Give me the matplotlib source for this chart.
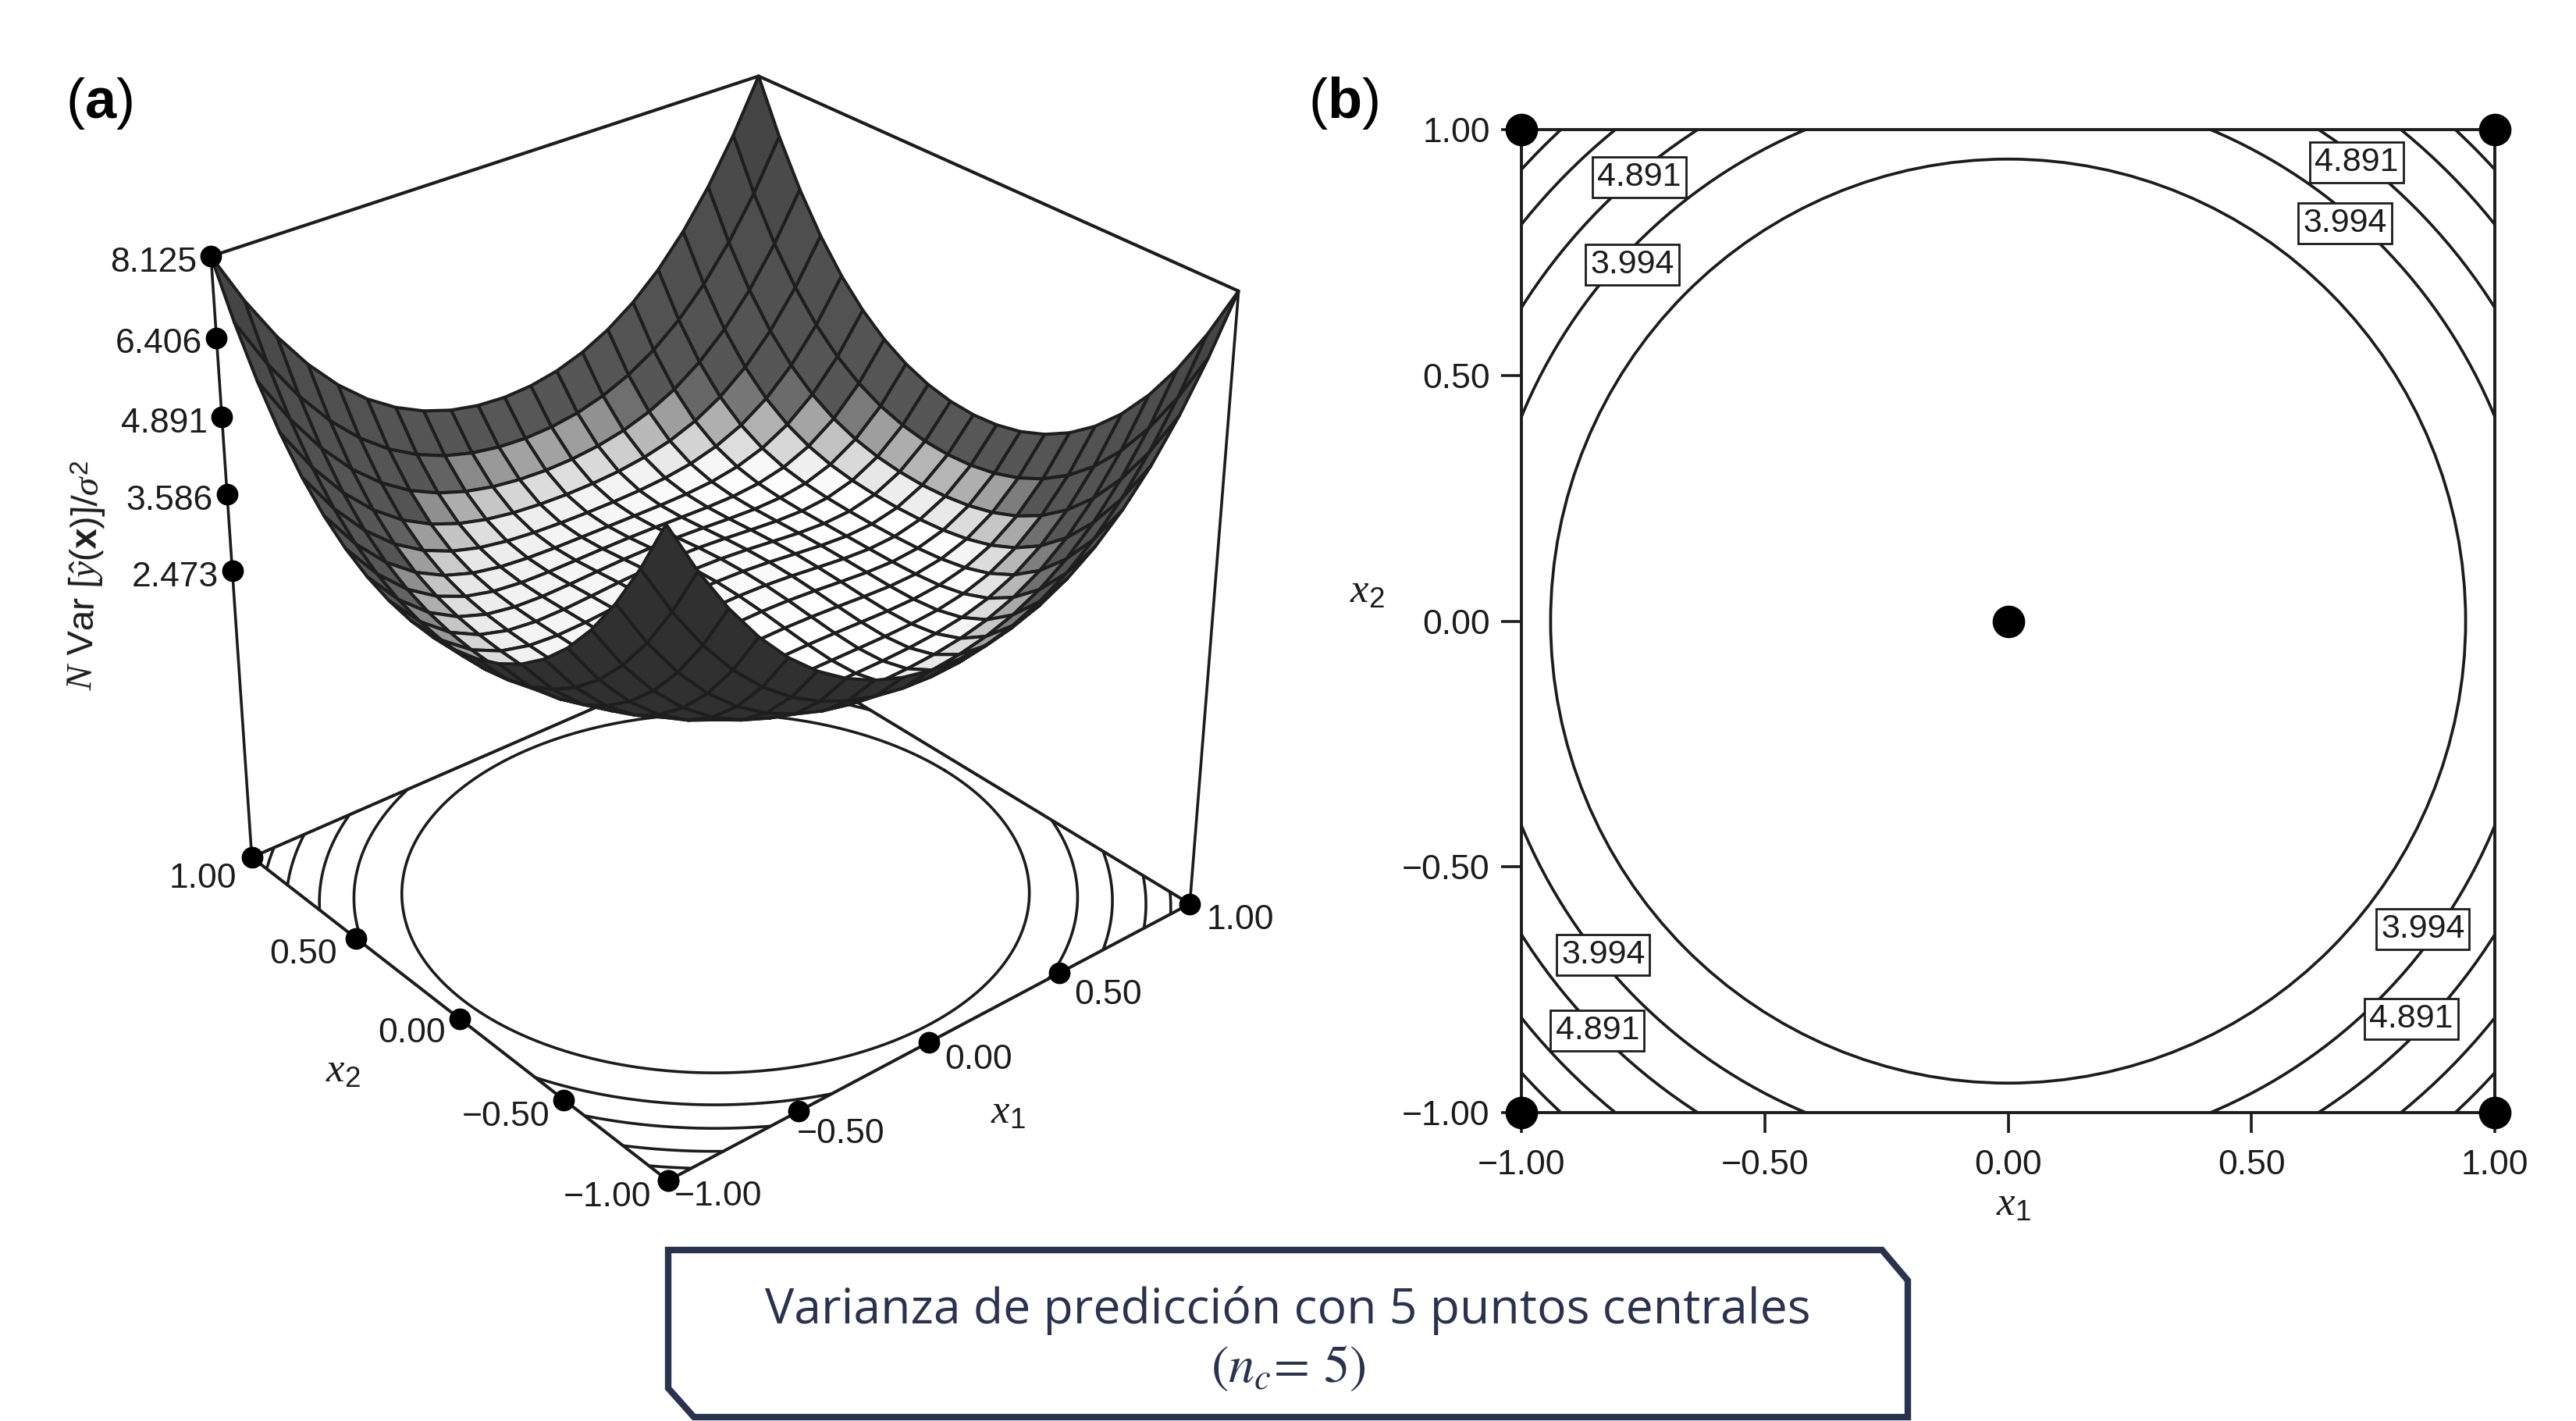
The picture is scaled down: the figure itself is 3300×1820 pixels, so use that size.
import numpy as np
import matplotlib
matplotlib.use("Agg")
import matplotlib.pyplot as plt
from matplotlib.collections import PolyCollection
from matplotlib.patches import Circle, Polygon

plt.rcParams['font.family'] = ['Liberation Sans', 'DejaVu Sans']
plt.rcParams['mathtext.fontset'] = 'custom'
plt.rcParams['mathtext.rm'] = 'Liberation Sans'
plt.rcParams['mathtext.it'] = 'Liberation Serif:italic'
plt.rcParams['mathtext.bf'] = 'Liberation Sans:bold'

# ---- data ----
# N Var values for the quadrant x1 = 0.0..1.0 (rows), x2 = 0.0..1.0 (columns)
NVAR_Q0 = [2.600, 2.590, 2.564, 2.527, 2.492, 2.473, 2.491, 2.571, 2.741, 3.036, 3.494]
NVAR_Q1 = [2.590, 2.581, 2.556, 2.521, 2.488, 2.473, 2.495, 2.580, 2.756, 3.057, 3.522]
NVAR_Q2 = [2.564, 2.556, 2.534, 2.505, 2.480, 2.474, 2.509, 2.608, 2.801, 3.121, 3.607]
NVAR_Q3 = [2.527, 2.521, 2.505, 2.485, 2.473, 2.485, 2.540, 2.663, 2.884, 3.236, 3.758]
NVAR_Q4 = [2.492, 2.488, 2.480, 2.473, 2.479, 2.514, 2.598, 2.756, 3.016, 3.413, 3.984]
NVAR_Q5 = [2.473, 2.473, 2.474, 2.485, 2.514, 2.580, 2.701, 2.902, 3.212, 3.666, 4.301]
NVAR_Q6 = [2.491, 2.495, 2.509, 2.540, 2.598, 2.701, 2.867, 3.121, 3.494, 4.017, 4.730]
NVAR_Q7 = [2.571, 2.580, 2.608, 2.663, 2.756, 2.902, 3.121, 3.439, 3.884, 4.491, 5.296]
NVAR_Q8 = [2.741, 2.756, 2.801, 2.884, 3.016, 3.212, 3.494, 3.884, 4.414, 5.115, 6.027]
NVAR_Q9 = [3.036, 3.057, 3.121, 3.236, 3.413, 3.666, 4.017, 4.491, 5.115, 5.925, 6.957]
NVAR_Q10 = [3.494, 3.522, 3.607, 3.758, 3.984, 4.301, 4.730, 5.296, 6.027, 6.957, 8.125]
GRID_COORDS = np.arange(-10, 11) / 10

Z_TICKS = [8.125, 6.406, 4.891, 3.586, 2.473]
Z_TICK_LABELS = ['8.125', '6.406', '4.891', '3.586', '2.473']
AXIS_TICKS = [-1.0, -0.5, 0.0, 0.5, 1.0]
AXIS_LABELS = ['\u22121.00', '\u22120.50', '0.00', '0.50', '1.00']

# radii of the constant-variance rings (levels about 3.2, 3.994, 4.891, 5.9, 7.0)
RING_RADII = [0.94, 1.083, 1.186, 1.285, 1.358]

LABEL_TEXT = ['4.891', '3.994', '4.891', '3.994', '3.994', '4.891', '3.994', '4.891']
LABEL_X = [-0.758, -0.772, 0.716, 0.692, -0.832, -0.844, 0.852, 0.828]
LABEL_Y = [0.903, 0.725, 0.933, 0.809, -0.679, -0.833, -0.627, -0.809]
DESIGN_X = [-1, 1, -1, 1, 0]
DESIGN_Y = [1, 1, -1, -1, 0]

# grey level of the inner side of the bowl as a function of N Var
SHADE_Z = [2.5, 2.6, 2.7, 2.8, 2.9, 3.05, 3.15, 3.25, 8.2]
SHADE_G = [1.0, 0.97, 0.88, 0.78, 0.69, 0.58, 0.45, 0.34, 0.25]
SIDE_LIGHT = 0.13
OUTER_GREY = 0.19

H_BASE = 0.30
H_TOP = np.sqrt(8.125)

# camera calibration: box corners (x1, x2, h) and where they sit on the page in pixels
BOX_WORLD = [(-1, -1, H_BASE), (1, -1, H_BASE), (-1, 1, H_BASE), (1, 1, H_BASE),
             (-1, -1, H_TOP), (1, -1, H_TOP), (-1, 1, H_TOP), (1, 1, H_TOP)]
BOX_PAGE = [(857, 1513), (1523, 1157), (321, 1096), (966, 820),
            (853, 672), (1587, 372), (271, 329), (971, 97)]

NAVY = '#29334f'
INK = '#1c1c1c'


def fit_camera(world, page):
    rows = []
    for (X, Y, Z), (u, v) in zip(world, page):
        u, v = u / 1000, v / 1000
        rows.append([X, Y, Z, 1, 0, 0, 0, 0, -u * X, -u * Y, -u * Z, -u])
        rows.append([0, 0, 0, 0, X, Y, Z, 1, -v * X, -v * Y, -v * Z, -v])
    P = np.linalg.svd(np.array(rows, float))[2][-1].reshape(3, 4)
    if P[2] @ np.array([0, 0, 1, 1]) < 0:
        P = -P
    return P


CAM = fit_camera(BOX_WORLD, BOX_PAGE)


def project(x1, x2, h):
    x1, x2, h = np.broadcast_arrays(np.asarray(x1, float), np.asarray(x2, float), np.asarray(h, float))
    w = CAM[2, 0] * x1 + CAM[2, 1] * x2 + CAM[2, 2] * h + CAM[2, 3]
    u = (CAM[0, 0] * x1 + CAM[0, 1] * x2 + CAM[0, 2] * h + CAM[0, 3]) / w * 1000
    v = (CAM[1, 0] * x1 + CAM[1, 1] * x2 + CAM[1, 2] * h + CAM[1, 3]) / w * 1000
    return u, v, w


def on_edge(tick, far_x1, far_x2):
    """Ticks are evenly spaced on the page along a front edge of the base."""
    u0, v0, _ = project(-1, -1, H_BASE)
    u1, v1, _ = project(far_x1, far_x2, H_BASE)
    f = (tick + 1) / 2
    return u0 + f * (u1 - u0), v0 + f * (v1 - v0)


fig = plt.figure(figsize=(33, 18.2), dpi=100, facecolor='white')
page = fig.add_axes([0, 0, 1, 1])
page.set_xlim(0, 3300)
page.set_ylim(1820, 0)
page.axis('off')


def line3(a, b, lw, z=1):
    u, v, _ = project([a[0], b[0]], [a[1], b[1]], [a[2], b[2]])
    page.plot(u, v, color=INK, lw=lw, zorder=z, solid_capstyle='round')


# ---- panel (a): base ----
corners = [(-1, -1), (1, -1), (1, 1), (-1, 1), (-1, -1)]
for p, q in zip(corners[:-1], corners[1:]):
    line3((*p, H_BASE), (*q, H_BASE), 2.9)
theta = np.linspace(0, 2 * np.pi, 1441)
for radius in RING_RADII:
    cx, cy = radius * np.cos(theta), radius * np.sin(theta)
    outside = (np.abs(cx) > 1) | (np.abs(cy) > 1)
    cx[outside] = np.nan
    cy[outside] = np.nan
    u, v, _ = project(cx, cy, H_BASE)
    page.plot(u, v, color=INK, lw=2.6, zorder=1.5)

line3((-1, 1, H_BASE), (-1, 1, H_TOP), 2.6)
line3((1, -1, H_BASE), (1, -1, H_TOP), 2.6)
line3((-1, 1, H_TOP), (1, 1, H_TOP), 3.0)
line3((1, 1, H_TOP), (1, -1, H_TOP), 3.0)

# ---- panel (a): surface ----
quadrant = np.array([NVAR_Q0, NVAR_Q1, NVAR_Q2, NVAR_Q3, NVAR_Q4, NVAR_Q5, NVAR_Q6,
                     NVAR_Q7, NVAR_Q8, NVAR_Q9, NVAR_Q10])
index = np.abs(np.arange(-10, 11))
nvar = quadrant[np.ix_(index, index)]
X1, X2 = np.meshgrid(GRID_COORDS, GRID_COORDS, indexing='ij')
U, V, W = project(X1, X2, np.sqrt(nvar))


def cell(a, i, j):
    return [a[i, j], a[i + 1, j], a[i + 1, j + 1], a[i, j + 1]]


def signed_area(i, j):
    us, vs = cell(U, i, j), cell(V, i, j)
    return 0.5 * sum(us[k] * vs[(k + 1) % 4] - us[(k + 1) % 4] * vs[k] for k in range(4))


inner_sign = np.sign(signed_area(10, 10))
faces = []
for i in range(20):
    for j in range(20):
        mean_z = np.mean(cell(nvar, i, j))
        inner = np.sign(signed_area(i, j)) == inner_sign
        if inner:
            side = (np.mean(cell(X1, i, j)) - np.mean(cell(X2, i, j))) / 2
            grey = np.interp(mean_z, SHADE_Z, SHADE_G)
            if mean_z < 3.2:
                grey = np.clip(grey + SIDE_LIGHT * min(side, 0.0) + 0.04 * max(side, 0.0), 0, 1)
        else:
            grey = OUTER_GREY
        faces.append((np.mean(cell(W, i, j)),
                      np.column_stack([cell(U, i, j), cell(V, i, j)]), str(round(float(grey), 3))))
faces.sort(key=lambda f: -f[0])
page.add_collection(PolyCollection([f[1] for f in faces], facecolors=[f[2] for f in faces],
                                   edgecolors='#1e1e1e', linewidths=2.9, zorder=2,
                                   joinstyle='round'))

# ---- panel (a): axes ----
FONT = 32
for value, label in zip(Z_TICKS, Z_TICK_LABELS):
    u, v, _ = project(-1, 1, np.sqrt(value))
    page.plot(u, v, 'o', color='black', ms=19, zorder=3)
    page.text(u - 18, v + 8, label, ha='right', va='center', fontsize=FONT, color=INK)

X2_OFFSET = [(-22, 21), (-18, 22), (-18, 18), (-24, 21), (-19, 28)]
X1_OFFSET = [(8, 20), (-2, 29), (20, 23), (19, 28), (21, 21)]
for tick, label, off2, off1 in zip(AXIS_TICKS, AXIS_LABELS, X2_OFFSET, X1_OFFSET):
    u, v = on_edge(tick, -1, 1)
    page.plot(u, v, 'o', color='black', ms=19, zorder=3)
    page.text(u + off2[0], v + off2[1], label, ha='right', va='center', fontsize=FONT, color=INK)
    u, v = on_edge(tick, 1, -1)
    page.plot(u, v, 'o', color='black', ms=19, zorder=3)
    page.text(u + off1[0], v + off1[1], label, ha='left', va='center', fontsize=FONT, color=INK)

page.text(1291, 1425, r'$x_1$', ha='center', va='center', fontsize=38, color=INK)
page.text(439, 1372, r'$x_2$', ha='center', va='center', fontsize=38, color=INK)
page.text(110, 737, r'$N$ Var $[\hat{y}(\mathbf{x})]/\sigma^2$', rotation=88, ha='center',
          va='center', fontsize=34, color=INK)
page.text(84, 132, r'$(\mathbf{a})$', ha='left', va='center', fontsize=52, color='black')
page.text(1676, 132, r'$(\mathbf{b})$', ha='left', va='center', fontsize=52, color='black')

# ---- panel (b) ----
L, R, T, B = 1949, 3196, 166, 1425
ax = fig.add_axes([L / 3300, 1 - B / 1820, (R - L) / 3300, (B - T) / 1820])
ax.set_xlim(-1, 1)
ax.set_ylim(-1, 1)
ax.set_facecolor('none')
for spine in ax.spines.values():
    spine.set_linewidth(2.8)
    spine.set_color(INK)
ax.set_xticks(AXIS_TICKS, AXIS_LABELS)
ax.set_yticks(AXIS_TICKS, AXIS_LABELS)
ax.tick_params(length=19, width=2.6, color=INK, labelsize=FONT, labelcolor=INK)
ax.tick_params(axis='x', pad=15)
ax.tick_params(axis='y', pad=10)
for radius in RING_RADII:
    ax.add_patch(Circle((0, 0), radius, fill=False, ec=INK, lw=2.7, zorder=2))
for x, y, text in zip(LABEL_X, LABEL_Y, LABEL_TEXT):
    ax.text(x, y, text, ha='center', va='center', fontsize=31, color=INK, zorder=4,
            bbox=dict(boxstyle='square,pad=0.14', fc='white', ec=INK, lw=2.0))
ax.plot(DESIGN_X, DESIGN_Y, 'o', color='black', ms=29, zorder=5, clip_on=False, linestyle='none')
page.text(2579, 1543, r'$x_1$', ha='center', va='center', fontsize=38, color=INK)
page.text(1751, 758, r'$x_2$', ha='center', va='center', fontsize=38, color=INK)

# ---- caption box ----
page.add_patch(Polygon([(856, 1601), (2411, 1601), (2444, 1640), (2444, 1815), (889, 1815), (856, 1778)],
                       closed=True, fc='white', ec=NAVY, lw=6.0, joinstyle='miter', zorder=4))
page.text(1650, 1678, 'Varianza de predicción con 5 puntos centrales', ha='center', va='center',
          fontsize=45, color=NAVY, family='Open Sans', zorder=5)
page.text(1650, 1753, r'$(n_c\!=\,5)$', ha='center', va='center', fontsize=48, color=NAVY, zorder=5,
          math_fontfamily='stix')

fig.savefig('out.png', dpi=100, facecolor='white')
